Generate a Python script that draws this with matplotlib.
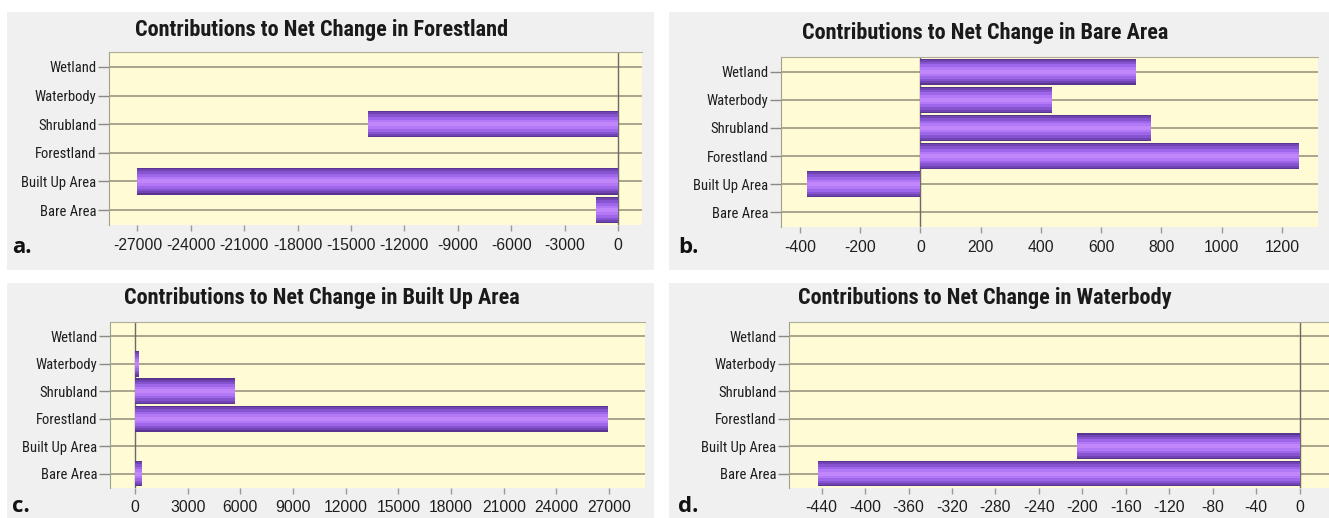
import matplotlib
matplotlib.use("Agg")
import matplotlib.pyplot as plt
from matplotlib.patches import Rectangle
from matplotlib import font_manager
import numpy as np

# categories from bottom to top
categories = ["Bare Area", "Built Up Area", "Forestland", "Shrubland", "Waterbody", "Wetland"]

forest_vals = [-1258, -27000, 0, -14050, 0, 0]
bare_vals = [0, -378, 1258, 764, 436, 717]
built_vals = [378, 0, 26950, 5720, 205, 0]
water_vals = [-443, -205, 0, 0, 0, 0]

titles = ["Contributions to Net Change in Forestland",
          "Contributions to Net Change in Bare Area",
          "Contributions to Net Change in Built Up Area",
          "Contributions to Net Change in Waterbody"]
panel_letters = ["a.", "b.", "c.", "d."]

FIG_W, FIG_H = 1329, 518


def weight_num(w):
    if isinstance(w, str):
        return font_manager.weight_dict.get(w, 400)
    return w


# pick a narrow font that has a bold face, if one is installed
fonts = font_manager.fontManager.ttflist
is_narrow = lambda n: "Narrow" in n or "Condensed" in n
narrow_bold = {f.name for f in fonts if is_narrow(f.name) and weight_num(f.weight) >= 600}
wanted = ["Liberation Sans Narrow", "Arial Narrow", "Roboto Condensed", "Noto Sans Condensed"]
pref = [n for n in wanted if n in narrow_bold] + sorted(narrow_bold)
NARROW = pref[:1] + ["DejaVu Sans"]
PLAIN = ["Liberation Sans", "DejaVu Sans"]

fig = plt.figure(figsize=(FIG_W / 100, FIG_H / 100), dpi=100)
fig.patch.set_facecolor("white")


def px_box(x0, y0, x1, y1):
    # pixel box (top-left origin) -> figure fraction rect
    return [x0 / FIG_W, 1 - y1 / FIG_H, (x1 - x0) / FIG_W, (y1 - y0) / FIG_H]


# grey panel backgrounds
panel_boxes = [(7, 12, 654, 270), (669, 12, 1329, 270), (7, 283, 654, 518), (669, 283, 1329, 518)]
for x0, y0, x1, y1 in panel_boxes:
    l, b, w, h = px_box(x0, y0, x1, y1)
    fig.patches.append(Rectangle((l, b), w, h, transform=fig.transFigure,
                                 facecolor="#f0f0f0", edgecolor="none", zorder=-5))

axes_boxes = [(109, 52, 642, 225), (781, 57, 1318, 227), (110, 322, 645, 488), (789, 322, 1329, 488)]
xlims = [(-28600, 1350), (-463, 1320), (-1424, 29040), (-470, 27)]
xticks = [np.arange(-27000, 1, 3000), np.arange(-400, 1201, 200),
          np.arange(0, 27001, 3000), np.arange(-440, 1, 40)]
title_pos = [(322, 30), (985, 33), (322, 298), (985, 298)]
letter_pos = [(12, 248), (678, 248), (12, 506), (678, 506)]
all_vals = [forest_vals, bare_vals, built_vals, water_vals]

# gradient layers for the bars: (height fraction, colour)
layers = [(0.93, "#5a3490"), (0.84, "#7044b2"), (0.70, "#8754d0"),
          (0.52, "#9e66e8"), (0.32, "#b378f6"), (0.14, "#c086fa")]

y = np.arange(len(categories))
for i in range(4):
    ax = fig.add_axes(px_box(*axes_boxes[i]), zorder=2)
    ax.set_facecolor("#fffbd4")
    vals = all_vals[i]
    for hfrac, col in layers:
        ax.barh(y, vals, height=hfrac, color=col, edgecolor="none", zorder=3)
    for yy in y:
        ax.axhline(yy, color="#a9a58d", lw=1.4, zorder=2)
    ax.axvline(0, color="#6a6a6a", lw=1.0, zorder=2.5)

    ax.set_xlim(*xlims[i])
    ax.set_ylim(-0.52, len(categories) - 0.48)
    ax.set_yticks(y)
    ax.set_yticklabels(categories, family=NARROW, fontsize=10.5, color="#1e1e1e")
    ax.set_xticks(xticks[i])
    ax.set_xticklabels([str(v) for v in xticks[i]], family=PLAIN, fontsize=11.3, color="#1e1e1e")
    ax.tick_params(axis="y", length=8, width=1, color="#8a8a80", pad=1)
    ax.tick_params(axis="x", length=4, width=1, color="#9a9a90", pad=5)
    for s in ["right", "bottom"]:
        ax.spines[s].set_visible(False)
    ax.spines["left"].set_color("#a0a090")
    ax.spines["top"].set_color("#b0ac98")

    tx, ty = title_pos[i]
    fig.text(tx / FIG_W, 1 - ty / FIG_H, titles[i], ha="center", va="center",
             family=NARROW, fontweight="bold", fontsize=16, color="#1a1a1a")
    lx, ly = letter_pos[i]
    fig.text(lx / FIG_W, 1 - ly / FIG_H, panel_letters[i], ha="left", va="center",
             family=["Open Sans", "DejaVu Sans"], fontweight="bold", fontsize=16, color="#111111")

fig.savefig("out.png", dpi=100)
